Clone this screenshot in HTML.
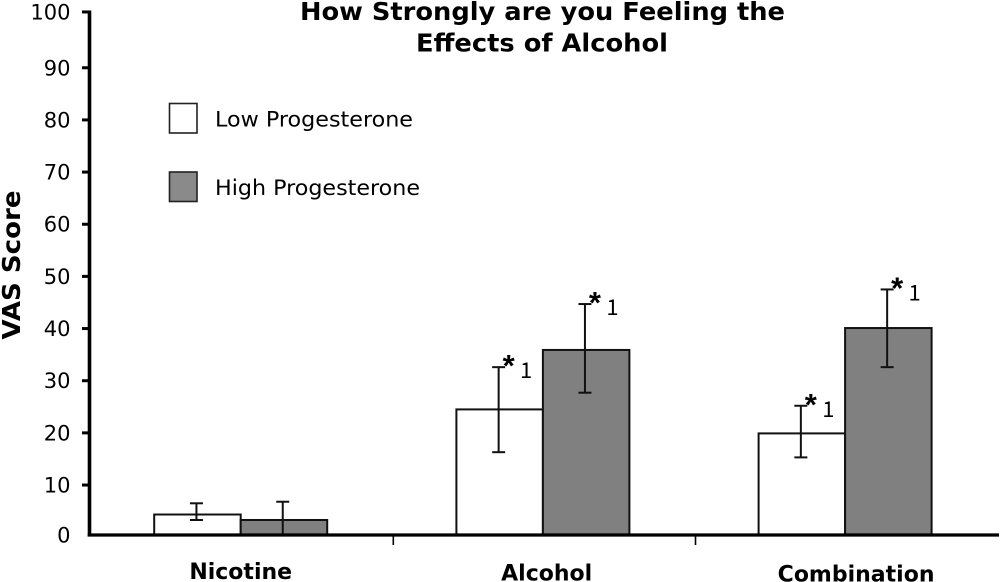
<!DOCTYPE html>
<html lang="en">
<head>
<meta charset="utf-8">
<title>How Strongly are you Feeling the Effects of Alcohol</title>
<style>
html,body{margin:0;padding:0;background:#fff;}
body{width:1000px;height:582px;overflow:hidden;}
svg{display:block;}
text{fill:#000;}
.sans{font-family:"DejaVu Sans","Liberation Sans",sans-serif;}
.arial{font-family:"Liberation Sans",sans-serif;}
.digit{font-family:"Noto Sans CJK SC","Liberation Sans",sans-serif;}
</style>
</head>
<body>
<svg id="chart" width="1000" height="582" viewBox="0 0 1000 582" xmlns="http://www.w3.org/2000/svg">
  <g class="sans" font-weight="bold" font-size="25" text-anchor="middle">
    <text x="542.5" y="20" textLength="485" lengthAdjust="spacingAndGlyphs">How Strongly are you Feeling the</text>
    <text x="542" y="51.5" textLength="252" lengthAdjust="spacingAndGlyphs">Effects of Alcohol</text>
  </g>
  <text class="sans" font-weight="bold" font-size="25" text-anchor="middle" transform="translate(20,265) rotate(-90)" textLength="149" lengthAdjust="spacingAndGlyphs">VAS Score</text>
  <g>
    <g>
      <rect x="169.5" y="103.5" width="27.5" height="29.5" fill="#fff" stroke="#222" stroke-width="1.6"/>
      <text class="sans" x="215" y="126.7" font-size="21" textLength="198" lengthAdjust="spacingAndGlyphs">Low Progesterone</text>
    </g>
    <g>
      <rect x="169.5" y="172" width="27.5" height="29.5" fill="#8a8a8a" stroke="#222" stroke-width="1.6"/>
      <text class="sans" x="215" y="195" font-size="21" textLength="205" lengthAdjust="spacingAndGlyphs">High Progesterone</text>
    </g>
  </g>
  <g id="bars"></g>
  <g id="errors"></g>
  <g id="annotations"></g>
  <g id="axes"></g>
</svg>
<script>
const categories = ['Nicotine', 'Alcohol', 'Combination'];
const lowValues = [4.35, 24.5, 19.9];
const highValues = [3.3, 35.9, 40.1];
const lowErrorTop = [6.5, 32.6, 25.2];
const lowErrorBottom = [3.3, 16.3, 15.3];
const highErrorTop = [6.8, 44.7, 47.5];
const highErrorBottom = [0, 27.7, 32.6];
const lowSignificant = [false, true, true];
const highSignificant = [false, true, true];
const yTicks = [0, 10, 20, 30, 40, 50, 60, 70, 80, 90, 100];

const NS = 'http://www.w3.org/2000/svg';
const plotLeft = 89.5, plotRight = 999, plotTop = 12, plotBottom = 535;
const barWidth = 86.5;
const firstGroup = 240.7, groupStep = 302.2;

/* The source axis is hand drawn: 10-90 are evenly spaced, the 0 and 100 ticks sit slightly inward/outward. */
function yScale(v) {
  const y = 537.2 - 5.216 * v;
  if (v > 90) return 537.2 - 5.216 * 90 - (v - 90) * 5.58;
  return Math.min(plotBottom, y);
}
function xCenter(i) {
  return firstGroup + groupStep * i;
}
function make(tag, attrs, parent, text) {
  const el = document.createElementNS(NS, tag);
  for (const k in attrs) el.setAttribute(k, attrs[k]);
  if (text !== undefined) el.textContent = text;
  parent.appendChild(el);
  return el;
}

const barsG = document.getElementById('bars');
const errorsG = document.getElementById('errors');
const annG = document.getElementById('annotations');
const axesG = document.getElementById('axes');

function drawBar(i, x, value, fill, strokeColor, key) {
  const top = yScale(value);
  const el = make('rect', {x: x, y: top, width: barWidth, height: plotBottom - top, fill: fill, stroke: strokeColor, 'stroke-width': 2}, barsG);
  
  
}
function drawError(i, cx, hi, lo, key) {
  const yHi = yScale(hi), yLo = yScale(lo);
  const g = make('g', {stroke: '#111', 'stroke-width': 2}, errorsG);
  
  
  make('line', {x1: cx, x2: cx, y1: yHi, y2: yLo}, g);
  make('line', {x1: cx - 6.5, x2: cx + 6.5, y1: yHi, y2: yHi}, g);
  make('line', {x1: cx - 6.5, x2: cx + 6.5, y1: yLo, y2: yLo}, g);
}
function drawAnnotation(i, cx, hi, key) {
  const yHi = yScale(hi);
  const star = make('text', {x: cx + 10, y: yHi + 9, 'font-size': 31, 'font-weight': 'bold', 'text-anchor': 'middle', 'class': 'arial'}, annG, '*');
  
  
  const one = make('text', {x: cx + 27.5, y: yHi + 11, 'font-size': 22, 'text-anchor': 'middle', 'class': 'digit'}, annG, '1');
  
  
}

categories.forEach(function (cat, i) {
  const c = xCenter(i);
  const lowX = c - barWidth, highX = c;
  drawBar(i, lowX, lowValues[i], '#fff', '#111', 'low');
  drawBar(i, highX, highValues[i], '#808080', '#111', 'high');
  const lowCx = lowX + barWidth / 2 - 1;
  const highCx = highX + barWidth / 2 - 1.2;
  drawError(i, lowCx, lowErrorTop[i], lowErrorBottom[i], 'low');
  drawError(i, highCx, highErrorTop[i], highErrorBottom[i], 'high');
  if (lowSignificant[i]) drawAnnotation(i, lowCx, lowErrorTop[i], 'low');
  if (highSignificant[i]) drawAnnotation(i, highCx, highErrorTop[i], 'high');

  const label = make('text', {x: c + i * i * 2.75 + (i === 1 ? 1 : 0), y: 579 + i * 1.3, 'font-size': 22, 'font-weight': 'bold', 'text-anchor': 'middle', 'class': 'sans'}, axesG, cat);
  
  
});

const yAxis = make('line', {x1: plotLeft, x2: plotLeft, y1: plotTop - 1.5, y2: plotBottom + 1.5, stroke: '#000', 'stroke-width': 3.6}, axesG);



const xAxis = make('line', {x1: plotLeft - 1.8, x2: plotRight, y1: plotBottom, y2: plotBottom, stroke: '#000', 'stroke-width': 3.2}, axesG);



yTicks.forEach(function (t) {
  const y = yScale(t);
  if (t > 0) {
    const tick = make('line', {x1: plotLeft - 7.5, x2: plotLeft, y1: y, y2: y, stroke: '#000', 'stroke-width': 3}, axesG);
    
    
  }
  const lab = make('text', {x: 70.5, y: y + 7.5, 'font-size': 21, 'text-anchor': 'end', 'class': 'sans'}, axesG, String(t));
  
  
});

for (let k = 1; k < categories.length; k++) {
  const x = (xCenter(k - 1) + xCenter(k)) / 2 + 1.5;
  const tick = make('line', {x1: x, x2: x, y1: plotBottom, y2: plotBottom + 10, stroke: '#000', 'stroke-width': 1.6}, axesG);
  
  
}
</script>
</body>
</html>
